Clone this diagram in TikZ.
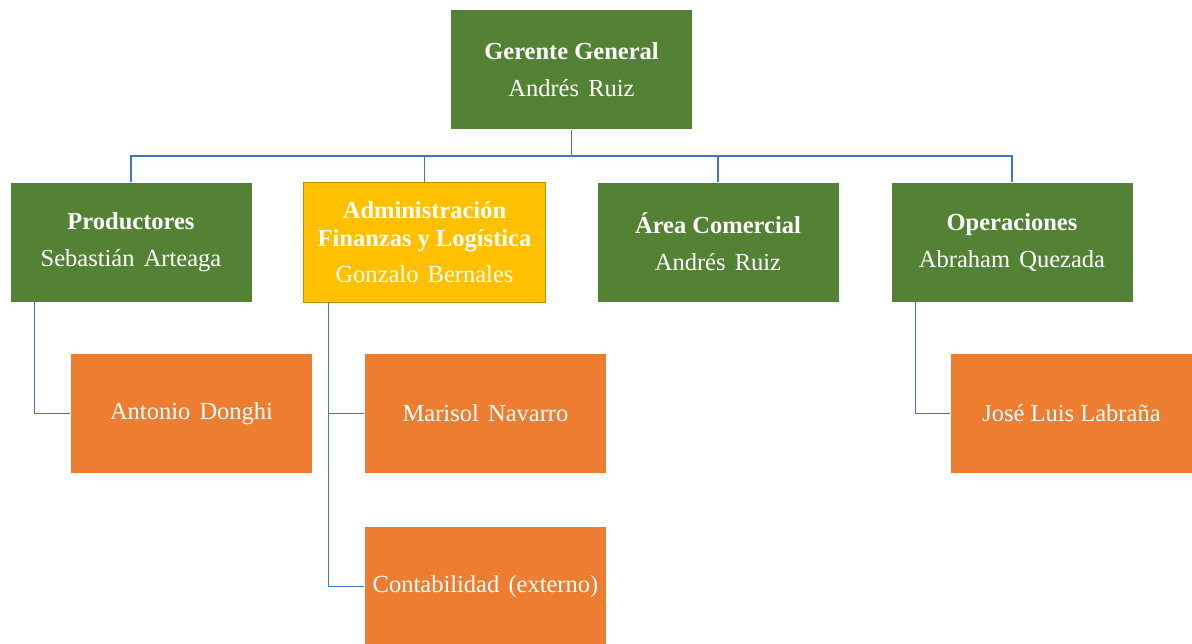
\documentclass[tikz,border=0pt]{standalone}
\usepackage{fontspec}
\setmainfont{Liberation Serif}
\newfontfamily\namefont[WordSpace=1.5]{Liberation Serif}
\definecolor{boxgreen}{HTML}{548235}
\definecolor{boxgold}{HTML}{FFC000}
\definecolor{goldedge}{HTML}{BF9000}
\definecolor{boxorange}{HTML}{ED7D31}
\definecolor{linkblue}{HTML}{4472C4}
\begin{document}
\begin{tikzpicture}[x=1pt,y=-1pt,
  unit/.style={rectangle, draw=white, line width=0.8pt, text=white, align=center,
    minimum width=242pt, minimum height=120pt, inner sep=0pt,
    font=\fontsize{24.5}{37}\selectfont},
  lead/.style={unit, fill=boxgreen},
  admin/.style={unit, fill=boxgold, draw=goldedge, font=\fontsize{24.5}{28}\selectfont},
  staff/.style={unit, fill=boxorange},
  link/.style={draw=linkblue, line width=1.2pt}]
\useasboundingbox (0,0) rectangle (1192,643);

% top level
\node[lead] (gg) at (571.5,69.5) {\textbf{Gerente General}\\{\namefont Andrés Ruiz}};

% second level
\node[lead]  (prod) at (131,242)   {\textbf{Productores}\\{\namefont Sebastián Arteaga}};
\node[admin] (adm)  at (424.5,242) {\textbf{Administración}\\\textbf{Finanzas y Logística}\\[8pt]{\namefont Gonzalo Bernales}};
\node[lead]  (com)  at (718,242)   {\textbf{Área Comercial}\\{\namefont Andrés Ruiz}};
\node[lead]  (ops)  at (1012,242)  {\textbf{Operaciones}\\{\namefont Abraham Quezada}};

% staff
\node[staff] (don) at (191.5,413.5)  {\namefont Antonio Donghi};
\node[staff] (nav) at (485.5,413.5)  {\namefont Marisol Navarro};
\node[staff] (con) at (485.5,586.5)  {\namefont Contabilidad (externo)};
\node[staff] (lab) at (1071.5,413.5) {José Luis Labraña};

% connectors from the general manager
\foreach \c in {prod,adm,com,ops}
  \draw[link] (gg.south) -- ++(0,26) -| (\c.north);

% side connectors to staff
\draw[link] ([xshift=25pt]prod.south west) |- (don.west);
\draw[link] ([xshift=25pt]adm.south west) |- (nav.west);
\draw[link] ([xshift=25pt]adm.south west) |- (con.west);
\draw[link] ([xshift=25pt]ops.south west) |- (lab.west);
\end{tikzpicture}
\end{document}
